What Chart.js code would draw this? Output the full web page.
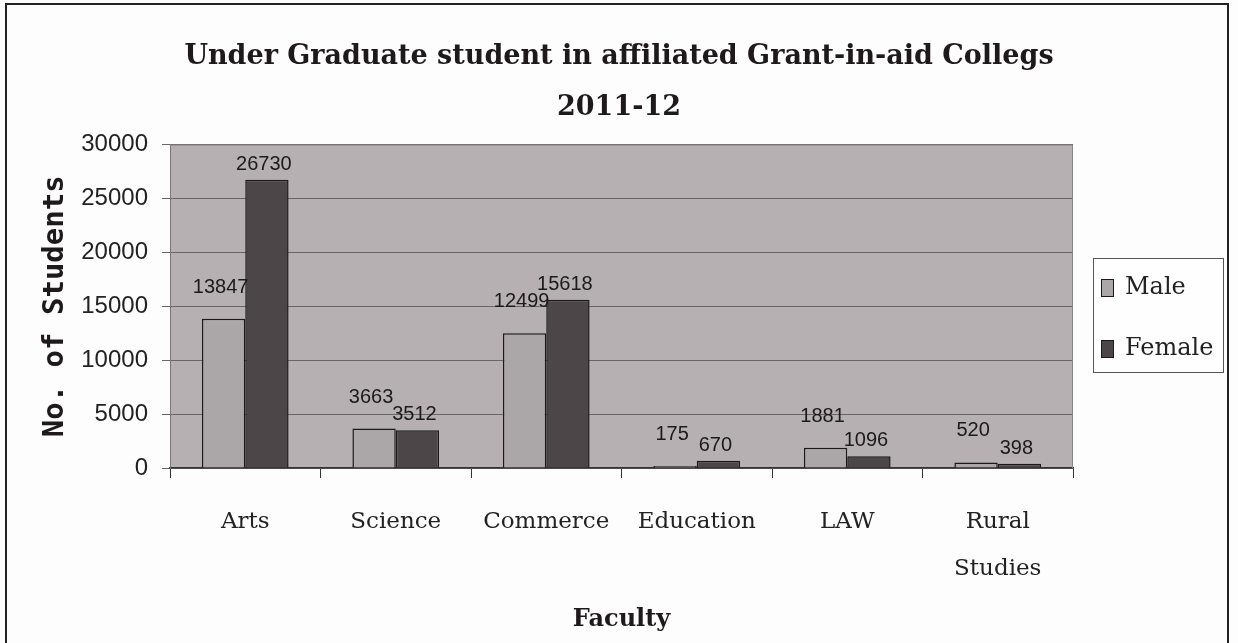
<!DOCTYPE html>
<html>
<head>
<meta charset="utf-8">
<script src="https://cdn.jsdelivr.net/npm/chart.js@4.4.1/dist/chart.umd.min.js"></script>
<style>
    html, body { margin: 0; padding: 0; background: #fdfdfd; }
    #wrap { width: 1238px; height: 643px; }
</style>
</head>
<body>
<div id="wrap"><canvas id="myChart" width="1238" height="643"></canvas></div>
<script>
const faculties = ['Arts', 'Science', 'Commerce', 'Education', 'LAW', ['Rural', 'Studies']];
const maleStudents = [13847, 3663, 12499, 175, 1881, 520];
const femaleStudents = [26730, 3512, 15618, 670, 1096, 398];
const yTicks = [0, 5000, 10000, 15000, 20000, 25000, 30000];
const chartTitle = ['Under Graduate student in affiliated Grant-in-aid Collegs', '2011-12'];

// fond blanc, cadre extérieur et fond gris de la zone de tracé
const backgroundPlugin = {
    id: 'backgroundPlugin',
    afterLayout(chart) {
        // le titre est centré sur toute la largeur du cadre, pas sur la zone de tracé
        if (chart.titleBlock) {
            chart.titleBlock.left = 6;
            chart.titleBlock.right = chart.width - 6;
            chart.titleBlock.width = chart.width - 12;
        }
    },
    beforeDraw(chart) {
        const ctx = chart.ctx;
        const area = chart.chartArea;
        ctx.save();
        ctx.fillStyle = '#fdfdfd';
        ctx.fillRect(0, 0, chart.width, chart.height);
        ctx.strokeStyle = '#222';
        ctx.lineWidth = 2;
        ctx.strokeRect(6, 4, 1222, 700);
        ctx.fillStyle = '#b7b0b3';
        ctx.fillRect(area.left, area.top, area.right - area.left, area.bottom - area.top);
        ctx.restore();
    },
    afterDraw(chart) {
        const ctx = chart.ctx;
        const area = chart.chartArea;
        ctx.save();
        ctx.strokeStyle = '#8a8587';
        ctx.lineWidth = 1;
        ctx.beginPath();
        ctx.moveTo(area.left, area.top + 0.5);
        ctx.lineTo(area.right - 0.5, area.top + 0.5);
        ctx.lineTo(area.right - 0.5, area.bottom);
        ctx.stroke();
        ctx.restore();
    }
};

// valeurs au-dessus des barres
const valueLabels = {
    id: 'valueLabels',
    afterDatasetsDraw(chart) {
        const ctx = chart.ctx;
        ctx.save();
        ctx.font = '20px "Liberation Sans", Arial, sans-serif';
        ctx.fillStyle = '#1a1a1a';
        ctx.textAlign = 'center';
        ctx.textBaseline = 'alphabetic';
        chart.data.datasets.forEach((ds, i) => {
            const meta = chart.getDatasetMeta(i);
            const gap = i === 0 ? 26 : 10;
            meta.data.forEach((bar, j) => {
                ctx.fillText(String(ds.data[j]), bar.x - 3, bar.y - gap);
            });
        });
        ctx.restore();
    }
};

// légende encadrée à droite
const boxedLegend = {
    id: 'boxedLegend',
    afterDraw(chart) {
        const ctx = chart.ctx;
        ctx.save();
        ctx.fillStyle = '#fefefe';
        ctx.fillRect(1093, 258, 130, 114);
        ctx.strokeStyle = '#555';
        ctx.lineWidth = 1;
        ctx.strokeRect(1093.5, 258.5, 130, 114);
        ctx.font = '24px "DejaVu Serif", serif';
        ctx.textBaseline = 'middle';
        chart.data.datasets.forEach((ds, i) => {
            const y = 288 + i * 61;
            ctx.fillStyle = ds.backgroundColor;
            ctx.fillRect(1101, y - 9, 13, 18);
            ctx.strokeStyle = '#1a1a1a';
            ctx.strokeRect(1101.5, y - 8.5, 12, 17);
            ctx.fillStyle = '#222';
            ctx.fillText(ds.label, 1125, y);
        });
        ctx.restore();
    }
};

const ctx = document.getElementById('myChart').getContext('2d');
new Chart(ctx, {
    type: 'bar',
    data: {
        labels: faculties,
        datasets: [{
            label: 'Male',
            data: maleStudents,
            backgroundColor: '#aba7a9',
            borderColor: '#1a1a1a',
            borderWidth: 1.5
        }, {
            label: 'Female',
            data: femaleStudents,
            backgroundColor: '#4c4648',
            borderColor: '#1a1a1a',
            borderWidth: 1.5
        }]
    },
    options: {
        responsive: false,
        animation: false,
        layout: { padding: { top: 10, left: 20, right: 165, bottom: 0 } },
        datasets: {
            bar: { categoryPercentage: 0.576, barPercentage: 1.0 }
        },
        plugins: {
            legend: { display: false },
            tooltip: { enabled: false },
            title: {
                display: true,
                text: chartTitle,
                color: '#1e1a1c',
                font: { family: '"DejaVu Serif", serif', size: 27, weight: 'bold', lineHeight: 1.9 },
                padding: { top: 21, bottom: 11 }
            }
        },
        scales: {
            x: {
                afterFit(scale) { scale.height = 175; },
                grid: {
                    display: true,
                    drawOnChartArea: false,
                    drawTicks: true,
                    tickLength: 10,
                    color: '#333'
                },
                border: { display: true, color: '#333', width: 1.5 },
                ticks: {
                    color: '#222',
                    padding: 20.5,
                    font: { family: '"DejaVu Serif", serif', size: 23, lineHeight: 2.04 }
                },
                title: {
                    display: true,
                    text: 'Faculty',
                    color: '#1e1a1c',
                    font: { family: '"DejaVu Serif", serif', size: 24, weight: 'bold', lineHeight: 1.2 },
                    padding: { top: 0, bottom: 8.6 }
                }
            },
            y: {
                min: 0,
                max: 30000,
                afterFit(scale) { scale.width = 150; },
                afterBuildTicks(scale) {
                    scale.ticks = yTicks.map(v => ({ value: v }));
                },
                grid: {
                    color: '#6a6567',
                    lineWidth: 1,
                    tickLength: 8
                },
                border: { display: true, color: '#7a7577' },
                ticks: {
                    color: '#222',
                    padding: 14,
                    font: { family: '"Liberation Sans", Arial, sans-serif', size: 24 },
                    callback: (v) => String(v)
                },
                title: {
                    display: true,
                    text: 'No. of Students',
                    color: '#1e1a1c',
                    font: { family: '"DejaVu Sans Mono", monospace', size: 29, weight: 'bold', lineHeight: 1.2 },
                    padding: { top: 17.6, bottom: 0 }
                }
            }
        }
    },
    plugins: [backgroundPlugin, valueLabels, boxedLegend]
});
</script>
</body>
</html>
